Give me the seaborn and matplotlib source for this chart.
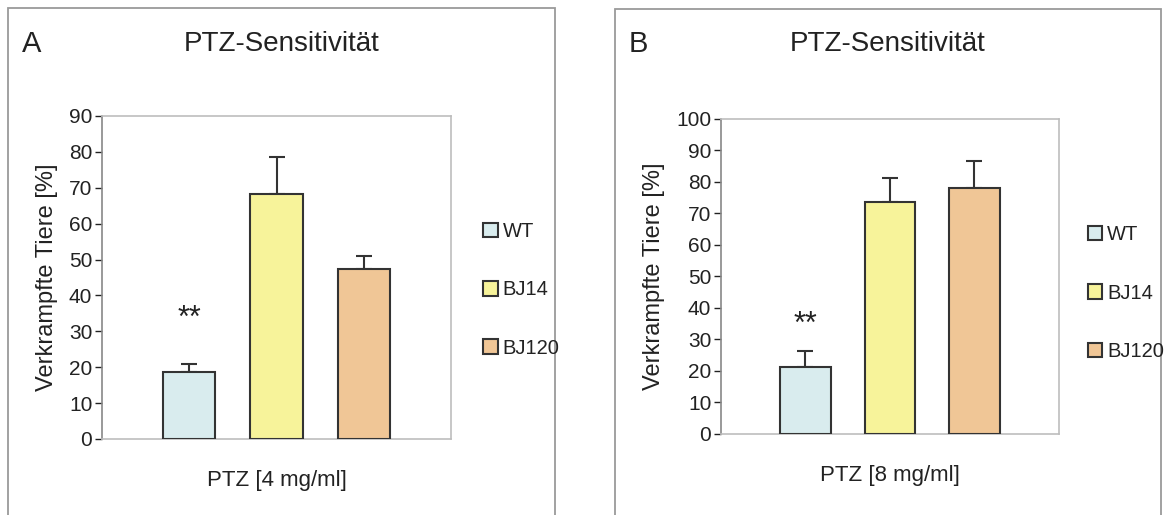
import pandas as pd
import seaborn as sns
import matplotlib.pyplot as plt
from matplotlib.patches import Rectangle

# data
groups = ['WT', 'BJ14', 'BJ120']
colors = ['#d9ecee', '#f7f39a', '#f0c696']

values_4mg = [18.8, 68.3, 47.5]
errors_4mg = [2.2, 10.2, 3.4]
values_8mg = [21.3, 73.6, 78.2]
errors_8mg = [5.0, 7.6, 8.5]

star_y = [33.5, 34.5]
ymax = [90, 100]
xlabels = ['PTZ [4 mg/ml]', 'PTZ [8 mg/ml]']
panel_letters = ['A', 'B']

sns.set_style('white')
plt.rcParams['font.family'] = ['Liberation Sans', 'DejaVu Sans']
text_col = '#222222'


def draw_panel(ax, vals, errs, ytop, xlabel):
    '''
    draws one bar panel with one-sided error bars
    '''
    df = pd.DataFrame({'Gruppe': groups, 'Wert': vals})
    sns.barplot(data=df, x='Gruppe', y='Wert', hue='Gruppe', palette=colors,
                saturation=1, errorbar=None, width=0.6, edgecolor='#333333',
                linewidth=1.5, legend=False, ax=ax, zorder=3)
    centers = [p.get_x() + p.get_width() / 2 for p in ax.patches]
    ax.errorbar(centers, vals, yerr=[[0] * len(errs), errs], fmt='none',
                ecolor='#333333', elinewidth=1.5, capsize=6, capthick=1.5,
                zorder=2)
    ax.set_xlim(-1, 3)
    ax.set_ylim(0, ytop)
    ax.set_yticks(range(0, ytop + 1, 10))
    ax.set_xticks([])
    ax.set_xlabel(xlabel, fontsize=16, color=text_col, labelpad=22)
    ax.set_ylabel('Verkrampfte Tiere [%]', fontsize=17, color=text_col, labelpad=8)
    ax.tick_params(axis='y', labelsize=15, colors=text_col, length=5,
                   width=1, direction='out', left=True, pad=2)
    for side in ['top', 'right', 'bottom']:
        ax.spines[side].set_color('#bdbdbd')
        ax.spines[side].set_linewidth(1.2)
    ax.spines['left'].set_color('#888888')
    ax.spines['left'].set_linewidth(1.2)
    for t in ax.get_yticklabels():
        t.set_color(text_col)
    return centers


fig = plt.figure(figsize=(11.67, 5.15), dpi=100)
ax_a = fig.add_axes([0.0874, 0.1476, 0.2991, 0.6272])
ax_b = fig.add_axes([0.6178, 0.1573, 0.2896, 0.6117])

panels = [(ax_a, values_4mg, errors_4mg), (ax_b, values_8mg, errors_8mg)]
frames = [(0.0069, 0.4756, 0.9845), (0.527, 0.9949, 0.9825)]
title_x = [0.241, 0.761]
letter_x = [0.019, 0.539]
legend_x = [0.407, 0.925]
legend_y = [0.437, 0.431]

for i, (ax, vals, errs) in enumerate(panels):
    centers = draw_panel(ax, vals, errs, ymax[i], xlabels[i])
    ax.text(centers[0], star_y[i], '**', ha='center', va='center',
            fontsize=22, color=text_col)

    # outer frame round each panel (open at the bottom)
    left, right, top = frames[i]
    fig.patches.append(Rectangle((left, -0.05), right - left, top + 0.05,
                                 transform=fig.transFigure, fill=False,
                                 edgecolor='#9a9a9a', linewidth=1.3))

    fig.text(letter_x[i], 0.915, panel_letters[i], fontsize=21,
             color=text_col, va='center', ha='left')
    fig.text(title_x[i], 0.915, 'PTZ-Sensitivität', fontsize=20,
             color=text_col, va='center', ha='center')

    handles = [p for p in ax.patches]
    leg = fig.legend(handles, groups, loc='center left',
                     bbox_to_anchor=(legend_x[i], legend_y[i]),
                     frameon=False, fontsize=14.5, handlelength=0.72,
                     handleheight=0.72, handletextpad=0.25, labelspacing=1.95,
                     borderaxespad=0)
    for t in leg.get_texts():
        t.set_color(text_col)

plt.savefig('out.png', dpi=100)
